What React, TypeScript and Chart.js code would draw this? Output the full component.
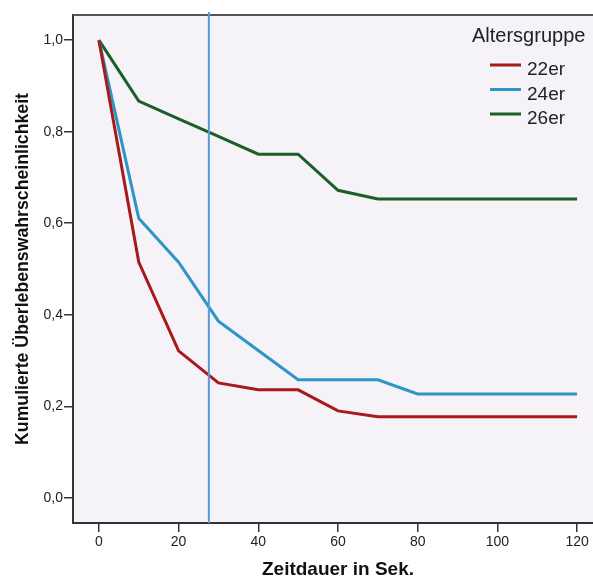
import React, { useEffect, useRef } from "react";
import { Chart, registerables } from "chart.js";

Chart.register(...registerables);

const TIMES = [0, 10, 20, 30, 40, 50, 60, 70, 80, 90, 100, 110, 120];
const SERIES_22 = [1.0, 0.515, 0.321, 0.251, 0.236, 0.236, 0.19, 0.177, 0.177, 0.177, 0.177, 0.177, 0.177];
const SERIES_24 = [1.0, 0.611, 0.515, 0.386, 0.322, 0.258, 0.258, 0.258, 0.227, 0.227, 0.227, 0.227, 0.227];
const SERIES_26 = [1.0, 0.867, 0.828, 0.79, 0.751, 0.751, 0.672, 0.653, 0.653, 0.653, 0.653, 0.653, 0.653];
const SERIES_LABELS = ["22er", "24er", "26er"];
const SERIES_COLORS = ["#A81A1A", "#2E96C6", "#1C5E27"];
const X_TICKS = [0, 20, 40, 60, 80, 100, 120];
const Y_TICKS = [0, 0.2, 0.4, 0.6, 0.8, 1.0];
const MARKER_X = 27.6;
const LEGEND_TITLE = "Altersgruppe";
const X_TITLE = "Zeitdauer in Sek.";
const Y_TITLE = "Kumulierte Überlebenswahrscheinlichkeit";

const FONT = "'Liberation Sans', Arial, sans-serif";

const decorPlugin = {
  id: "decor",
  beforeDraw(chart: any) {
    const { ctx, chartArea } = chart;
    ctx.save();
    ctx.fillStyle = "#ffffff";
    ctx.fillRect(0, 0, chart.width, chart.height);
    ctx.fillStyle = "#F5F2F8";
    ctx.fillRect(chartArea.left, chartArea.top, chartArea.right - chartArea.left, chartArea.bottom - chartArea.top);
    ctx.restore();
  },
  afterDatasetsDraw(chart: any) {
    const { ctx, chartArea, scales } = chart;
    ctx.save();
    // top frame line
    ctx.strokeStyle = "#555555";
    ctx.lineWidth = 2;
    ctx.beginPath();
    ctx.moveTo(chartArea.left, chartArea.top);
    ctx.lineTo(chartArea.right, chartArea.top);
    ctx.stroke();
    // reference vertical line
    const x = scales.x.getPixelForValue(MARKER_X);
    ctx.strokeStyle = "#5B9BD5";
    ctx.lineWidth = 2;
    ctx.beginPath();
    ctx.moveTo(x, chartArea.top - 3);
    ctx.lineTo(x, chartArea.bottom);
    ctx.stroke();
    ctx.restore();
  },
  afterDraw(chart: any) {
    const { ctx, chartArea } = chart;
    ctx.save();
    // legend
    ctx.fillStyle = "#222222";
    ctx.textAlign = "left";
    ctx.textBaseline = "alphabetic";
    ctx.font = `20px ${FONT}`;
    ctx.fillText(LEGEND_TITLE, 472, 42);
    chart.data.datasets.forEach((ds: any, i: number) => {
      const y = 65 + i * 24.5;
      ctx.strokeStyle = ds.borderColor;
      ctx.lineWidth = 3;
      ctx.beginPath();
      ctx.moveTo(490, y);
      ctx.lineTo(521, y);
      ctx.stroke();
      ctx.fillStyle = "#222222";
      ctx.font = `19px ${FONT}`;
      ctx.fillText(ds.label, 527, y + 10);
    });
    // axis titles
    ctx.fillStyle = "#111111";
    ctx.font = `bold 19px ${FONT}`;
    ctx.textAlign = "center";
    ctx.fillText(X_TITLE, 338, 575);
    ctx.save();
    ctx.translate(23, (chartArea.top + chartArea.bottom) / 2);
    ctx.rotate(-Math.PI / 2);
    ctx.font = `bold 17.7px ${FONT}`;
    ctx.textBaseline = "middle";
    ctx.fillText(Y_TITLE, 0, 0);
    ctx.restore();
    ctx.restore();
  },
};

export default function App() {
  const ref = useRef<HTMLCanvasElement | null>(null);
  useEffect(() => {
    if (!ref.current) return;
    const seriesValues = [SERIES_22, SERIES_24, SERIES_26];
    const chart = new Chart(ref.current, {
      type: "line",
      data: {
        datasets: seriesValues.map((vals, i) => ({
          label: SERIES_LABELS[i],
          data: TIMES.map((t, j) => ({ x: t, y: vals[j] })),
          borderColor: SERIES_COLORS[i],
          backgroundColor: SERIES_COLORS[i],
          borderWidth: 3,
          pointRadius: 0,
          tension: 0,
          fill: false,
        })),
      },
      options: {
        animation: false,
        responsive: false,
        devicePixelRatio: 1,
        layout: { padding: { top: 15, right: 0, left: 0, bottom: 0 } },
        plugins: { legend: { display: false }, tooltip: { enabled: false } },
        scales: {
          x: {
            type: "linear",
            min: -6.5,
            max: 124,
            afterBuildTicks: (s: any) => {
              s.ticks = X_TICKS.map((v) => ({ value: v }));
            },
            afterFit: (s: any) => {
              s.height = 54;
            },
            ticks: {
              color: "#222222",
              font: { family: FONT, size: 14 },
              padding: 2,
              maxRotation: 0,
              autoSkip: false,
              callback: (v: any) => String(v),
            },
            grid: { drawOnChartArea: false, drawTicks: true, tickLength: 9, color: "#333333", lineWidth: 1.5 },
            border: { display: true, color: "#333333", width: 2 },
          },
          y: {
            type: "linear",
            min: -0.055,
            max: 1.055,
            afterBuildTicks: (s: any) => {
              s.ticks = Y_TICKS.map((v) => ({ value: v }));
            },
            afterFit: (s: any) => {
              s.width = 73;
            },
            ticks: {
              color: "#222222",
              font: { family: FONT, size: 14 },
              padding: 1,
              autoSkip: false,
              callback: (v: any) => Number(v).toFixed(1).replace(".", ","),
            },
            grid: { drawOnChartArea: false, drawTicks: true, tickLength: 9, color: "#333333", lineWidth: 1.5 },
            border: { display: true, color: "#333333", width: 2 },
          },
        },
      },
      plugins: [decorPlugin],
    } as any);
    return () => chart.destroy();
  }, []);
  return (
    <div style={{ position: "absolute", left: 0, top: 0, width: 593, height: 577 }}>
      <canvas ref={ref} width={593} height={577} style={{ width: 593, height: 577, display: "block" }} />
    </div>
  );
}
